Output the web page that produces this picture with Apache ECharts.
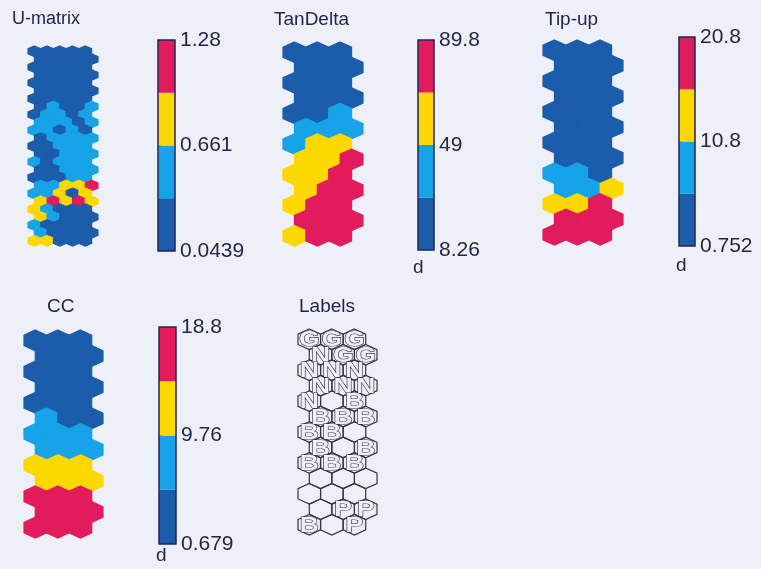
<!DOCTYPE html>
<html>
<head>
<meta charset="utf-8">
<script src="https://cdn.jsdelivr.net/npm/echarts@6/dist/echarts.min.js"></script>
<style>
  html, body { margin: 0; padding: 0; background: #eef0f8; }
  #chart { width: 761px; height: 569px; }
</style>
</head>
<body>
<div id="chart"></div>
<script>
// SOM component planes: U-matrix (5 x 25 hex cells), three component planes and
// the label map (3 x 13 hex cells each). Rows run top to bottom; odd rows are
// shifted right by half a cell.

const levelColors = ['#1b5cab', '#17a3e8', '#fdd800', '#e11b5c'];

const uMatrix = [
  [0.21, 0.18, 0.15, 0.19, 0.24],
  [0.17, 0.12, 0.09, 0.13, 0.20],
  [0.14, 0.08, 0.0439, 0.07, 0.16],
  [0.16, 0.10, 0.06, 0.11, 0.22],
  [0.19, 0.13, 0.09, 0.15, 0.27],
  [0.23, 0.17, 0.14, 0.20, 0.30],
  [0.28, 0.22, 0.19, 0.25, 0.33],
  [0.31, 0.41, 0.27, 0.30, 0.45],
  [0.34, 0.47, 0.40, 0.29, 0.52],
  [0.44, 0.49, 0.43, 0.26, 0.48],
  [0.46, 0.39, 0.31, 0.42, 0.33],
  [0.35, 0.44, 0.38, 0.46, 0.51],
  [0.25, 0.27, 0.40, 0.48, 0.55],
  [0.21, 0.24, 0.42, 0.45, 0.50],
  [0.39, 0.20, 0.37, 0.43, 0.47],
  [0.18, 0.16, 0.41, 0.44, 0.52],
  [0.22, 0.19, 0.32, 0.51, 0.58],
  [0.49, 0.56, 0.78, 0.86, 1.12],
  [0.53, 0.60, 0.82, 0.30, 0.79],
  [0.74, 1.05, 0.88, 1.19, 0.80],
  [0.72, 0.57, 0.29, 0.24, 0.27],
  [0.76, 0.50, 0.23, 0.18, 0.21],
  [0.45, 0.31, 0.19, 0.14, 0.17],
  [0.58, 0.26, 0.15, 0.12, 0.20],
  [0.81, 0.70, 0.22, 0.17, 0.26]
];

const tanDelta = [
  [12.1, 10.4, 9.3],
  [15.2, 13.8, 11.6],
  [18.7, 16.9, 14.2],
  [22.4, 20.8, 19.5],
  [25.3, 27.6, 31.4],
  [36.2, 39.8, 44.1],
  [46.5, 52.3, 58.7],
  [55.8, 63.4, 72.6],
  [59.7, 67.9, 76.4],
  [64.2, 73.8, 81.5],
  [66.8, 78.3, 85.2],
  [71.9, 82.6, 89.8],
  [68.1, 80.7, 87.4]
];

const tipUp = [
  [0.90, 0.80, 0.752],
  [1.2, 1.0, 0.95],
  [1.5, 1.3, 1.1],
  [1.8, 1.6, 1.4],
  [2.2, 2.0, 1.9],
  [2.7, 2.5, 2.6],
  [3.4, 3.1, 3.6],
  [4.5, 4.2, 5.1],
  [7.8, 6.9, 5.4],
  [9.6, 8.8, 12.3],
  [12.7, 13.9, 16.8],
  [17.5, 18.6, 19.7],
  [18.2, 19.4, 20.8]
];

const ccValues = [
  [1.2, 0.9, 0.679],
  [1.6, 1.3, 1.1],
  [2.1, 1.8, 1.5],
  [2.6, 2.3, 2.0],
  [3.3, 3.0, 2.8],
  [5.6, 4.6, 4.1],
  [6.4, 6.9, 7.3],
  [7.8, 8.4, 8.9],
  [10.3, 11.2, 12.1],
  [11.8, 12.7, 13.6],
  [15.1, 16.2, 17.0],
  [16.4, 17.5, 18.3],
  [17.2, 18.1, 18.8]
];

const labelRows = [
  ['G', 'G', 'G'],
  ['N', 'G', 'G'],
  ['N', 'N', 'N'],
  ['N', 'N', 'N'],
  ['N', '', 'B'],
  ['B', 'B', 'B'],
  ['B', 'B', ''],
  ['B', '', 'B'],
  ['B', 'B', 'B'],
  ['', '', ''],
  ['', '', ''],
  ['', 'P', 'P'],
  ['B', '', 'P']
];

const uRange = [0.0439, 1.28];
const tanDeltaRange = [8.26, 89.8];
const tipUpRange = [0.752, 20.8];
const ccRange = [0.679, 18.8];

const uTicks = [0.0439, 0.661, 1.28];
const tanDeltaTicks = [8.26, 49, 89.8];
const tipUpTicks = [0.752, 10.8, 20.8];
const ccTicks = [0.679, 9.76, 18.8];

const planeTitles = ['U-matrix', 'TanDelta', 'Tip-up', 'CC'];

// ---- layout ----
const FONT = '"Liberation Sans", Arial, sans-serif';
const TEXT_COLOR = '#25254a';

const planes = [
  { title: planeTitles[0], values: uMatrix, range: uRange, ticks: uTicks, map: [28, 46, 70, 200], bar: [158, 40, 17, 211], denorm: false, titlePos: [12, 10], titleSize: 18 },
  { title: planeTitles[1], values: tanDelta, range: tanDeltaRange, ticks: tanDeltaTicks, map: [283, 42, 80, 204], bar: [418, 40, 16, 210], denorm: [413, 258], titlePos: [274, 10], titleSize: 19 },
  { title: planeTitles[2], values: tipUp, range: tipUpRange, ticks: tipUpTicks, map: [543, 40, 80, 205], bar: [679, 37, 16, 209], denorm: [676, 256], titlePos: [545, 10], titleSize: 19 },
  { title: planeTitles[3], values: ccValues, range: ccRange, ticks: ccTicks, map: [24, 330, 79, 208], bar: [159, 327, 17, 217], denorm: [156, 546], titlePos: [47, 297], titleSize: 19 }
];
const labelMapBox = [298, 329, 79, 206];

// ---- helpers ----
function hexPoints(api, col, row) {
  const cx = col + (row % 2 === 1 ? 1 : 0.5);
  return [
    [cx, row - 2 / 3], [cx + 0.5, row - 1 / 3], [cx + 0.5, row + 1 / 3],
    [cx, row + 2 / 3], [cx - 0.5, row + 1 / 3], [cx - 0.5, row - 1 / 3]
  ].map(p => api.coord(p));
}

function binEdges(range) {
  const step = (range[1] - range[0]) / 4;
  return [0, 1, 2, 3, 4].map(i => range[0] + i * step);
}

const grids = [], xAxes = [], yAxes = [], series = [], visualMaps = [], titles = [];

function addGrid(box) {
  grids.push({ left: box[0], top: box[1], width: box[2], height: box[3], show: false, containLabel: false });
  return grids.length - 1;
}

function addHexAxes(gi, cols, rows) {
  xAxes.push({ gridIndex: gi, type: 'value', min: 0, max: cols + 0.5, show: false });
  yAxes.push({ gridIndex: gi, type: 'value', min: -2 / 3, max: rows - 1 + 2 / 3, inverse: true, show: false });
}

function titleStyle(size) {
  return { fontSize: size, fontWeight: 'normal', color: TEXT_COLOR, fontFamily: FONT };
}

planes.forEach(p => {
  // hex map
  const gi = addGrid(p.map);
  const rows = p.values.length, cols = p.values[0].length;
  addHexAxes(gi, cols, rows);
  const data = [];
  p.values.forEach((r, ri) => r.forEach((v, ci) => data.push([ci, ri, v])));
  series.push({
    type: 'custom',
    xAxisIndex: gi, yAxisIndex: gi,
    data: data,
    encode: { x: 0, y: 1 },
    renderItem: function (params, api) {
      const c = api.visual('color');
      return {
        type: 'polygon',
        shape: { points: hexPoints(api, api.value(0), api.value(1)) },
        style: { fill: c, stroke: c, lineWidth: 1.2 }
      };
    }
  });
  const e = binEdges(p.range);
  visualMaps.push({
    type: 'piecewise', show: false, seriesIndex: series.length - 1, dimension: 2,
    pieces: [
      { gte: e[0] - 1e-9, lt: e[1], color: levelColors[0] },
      { gte: e[1], lt: e[2], color: levelColors[1] },
      { gte: e[2], lt: e[3], color: levelColors[2] },
      { gte: e[3], lte: e[4] + 1e-9, color: levelColors[3] }
    ]
  });

  // colour bar
  const bi = addGrid(p.bar);
  xAxes.push({ gridIndex: bi, type: 'value', min: 0, max: 1, show: false });
  yAxes.push({
    gridIndex: bi, type: 'value', min: p.range[0], max: p.range[1], position: 'right',
    axisLine: { show: false },
    splitLine: { show: false },
    axisTick: { show: true, customValues: [p.ticks[1]], length: 3, inside: false, lineStyle: { color: '#23235a', width: 1.5 } },
    axisLabel: {
      customValues: p.ticks, showMinLabel: true, showMaxLabel: true,
      formatter: v => String(v), margin: 5,
      fontSize: 21, color: TEXT_COLOR, fontFamily: FONT
    }
  });
  series.push({
    type: 'custom',
    xAxisIndex: bi, yAxisIndex: bi,
    data: [0, 1, 2, 3].map(i => [0, e[i], e[i + 1], i]),
    encode: { x: 0, y: [1, 2] },
    renderItem: function (params, api) {
      const a = api.coord([0, api.value(2)]);
      const b = api.coord([1, api.value(1)]);
      return {
        type: 'rect',
        shape: { x: a[0], y: a[1], width: b[0] - a[0], height: b[1] - a[1] },
        style: { fill: levelColors[api.value(3)] }
      };
    }
  });
  series.push({
    type: 'custom',
    xAxisIndex: bi, yAxisIndex: bi,
    data: [[0, p.range[0], p.range[1]]],
    encode: { x: 0, y: [1, 2] },
    z: 3,
    renderItem: function (params, api) {
      const a = api.coord([0, api.value(2)]);
      const b = api.coord([1, api.value(1)]);
      return {
        type: 'rect',
        shape: { x: a[0], y: a[1], width: b[0] - a[0], height: b[1] - a[1] },
        style: { fill: 'none', stroke: '#23235a', lineWidth: 1.5 }
      };
    }
  });

  titles.push({ text: p.title, left: p.titlePos[0], top: p.titlePos[1], padding: 0, textStyle: titleStyle(p.titleSize) });
  if (p.denorm) {
    titles.push({ text: 'd', left: p.denorm[0], top: p.denorm[1], padding: 0, textStyle: titleStyle(19) });
  }
});

// label map
const li = addGrid(labelMapBox);
addHexAxes(li, 3, labelRows.length);
const labelData = [];
labelRows.forEach((r, ri) => r.forEach((t, ci) => labelData.push([ci, ri, t])));
series.push({
  type: 'custom',
  xAxisIndex: li, yAxisIndex: li,
  data: labelData,
  encode: { x: 0, y: 1 },
  renderItem: function (params, api) {
    return {
      type: 'polygon',
      shape: { points: hexPoints(api, api.value(0), api.value(1)) },
      style: { fill: 'none', stroke: '#34344a', lineWidth: 1.2 }
    };
  }
});
series.push({
  type: 'custom',
  xAxisIndex: li, yAxisIndex: li,
  data: labelData,
  encode: { x: 0, y: 1 },
  z: 4,
  renderItem: function (params, api) {
    const row = api.value(1), col = api.value(0);
    const t = labelRows[row][col];
    if (!t) return null;
    const c = api.coord([col + (row % 2 === 1 ? 1 : 0.5), row]);
    return {
      type: 'text',
      x: c[0], y: c[1] + 1,
      scaleX: 1.2,
      style: {
        text: t, align: 'center', verticalAlign: 'middle',
        font: 'bold 22px ' + FONT,
        fill: '#eef0f8', stroke: '#2e2e44', lineWidth: 1.1
      }
    };
  }
});
titles.push({ text: 'Labels', left: 299, top: 297, padding: 0, textStyle: titleStyle(19) });

const chart = echarts.init(document.getElementById('chart'), null, { renderer: 'canvas' });
chart.setOption({
  backgroundColor: '#eef0f8',
  animation: false,
  title: titles,
  grid: grids,
  xAxis: xAxes,
  yAxis: yAxes,
  visualMap: visualMaps,
  series: series
});
</script>
</body>
</html>
